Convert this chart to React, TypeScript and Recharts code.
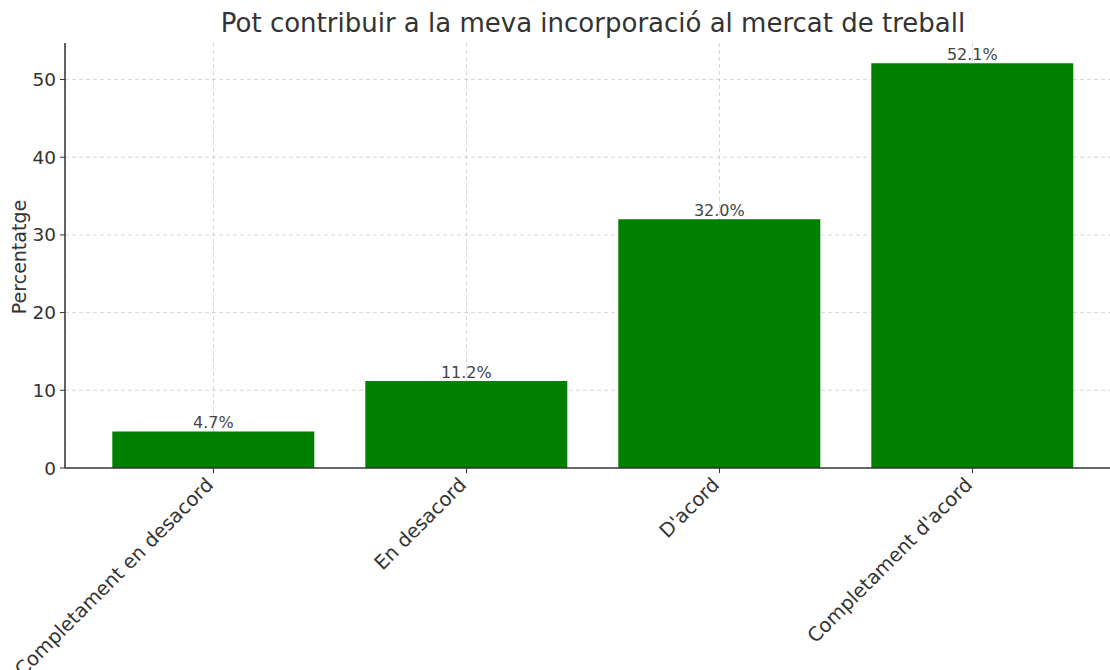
import { BarChart, Bar, XAxis, YAxis, CartesianGrid, LabelList } from "recharts";

const categories = [
  "Completament en desacord",
  "En desacord",
  "D'acord",
  "Completament d'acord",
];
const percentages = [4.7, 11.2, 32.0, 52.1];
const yTicks = [0, 10, 20, 30, 40, 50];

const data = categories.map((name, i) => ({ name, value: percentages[i] }));

const FONT = "'DejaVu Sans', sans-serif";
const TEXT = "#333333";

function RotatedTick({ x, y, payload }: any) {
  return (
    <g transform={`translate(${x + 1},${y + 11})`}>
      <text
        textAnchor="end"
        transform="rotate(-45)"
        fill={TEXT}
        fontSize={19.5}
        fontFamily={FONT}
      >
        {payload.value}
      </text>
    </g>
  );
}

export default function App() {
  return (
    <div
      style={{
        position: "absolute",
        left: 0,
        top: 0,
        width: 1110,
        height: 670,
        overflow: "hidden",
        background: "#fff",
        fontFamily: FONT,
      }}
    >
      {/* title */}
      <div
        style={{
          position: "absolute",
          left: 0,
          width: 1186,
          top: 8,
          textAlign: "center",
          fontSize: 26,
          lineHeight: "30px",
          color: TEXT,
          whiteSpace: "nowrap",
        }}
      >
        Pot contribuir a la meva incorporació al mercat de treball
      </div>
      {/* y axis label */}
      <div
        style={{
          position: "absolute",
          left: 19,
          top: 257,
          transform: "translate(-50%, -50%) rotate(-90deg)",
          fontSize: 19,
          color: TEXT,
          whiteSpace: "nowrap",
        }}
      >
        Percentatge
      </div>
      <BarChart
        width={1130}
        height={670}
        data={data}
        margin={{ top: 43, right: 9, left: 0, bottom: 0 }}
        barCategoryGap="10%"
      >
        <XAxis
          dataKey="name"
          height={202}
          padding={{ left: 22, right: 22 }}
          interval={0}
          tick={<RotatedTick />}
          tickSize={5}
          stroke="#333"
          strokeWidth={1.5}
          tickLine={{ stroke: "#333", strokeWidth: 1 }}
        />
        <YAxis
          width={65}
          domain={[0, 54.7]}
          ticks={yTicks}
          allowDataOverflow
          tickSize={5}
          tickMargin={4}
          stroke="#333"
          strokeWidth={1.5}
          tickLine={{ stroke: "#333", strokeWidth: 1 }}
          tick={{ fill: TEXT, fontSize: 18.5, fontFamily: FONT }}
        />
        <Bar dataKey="value" fill="#008000" isAnimationActive={false}>
          <LabelList
            dataKey="value"
            position="top"
            offset={3}
            formatter={(v: any) => `${Number(v).toFixed(1)}%`}
            fill="#444"
            fontSize={16}
            fontFamily={FONT}
          />
        </Bar>
        <CartesianGrid
          stroke="#b8b8b8"
          strokeOpacity={0.7}
          strokeDasharray="4 3"
          strokeWidth={0.8}
          horizontalValues={yTicks.slice(1)}
        />
      </BarChart>
    </div>
  );
}
